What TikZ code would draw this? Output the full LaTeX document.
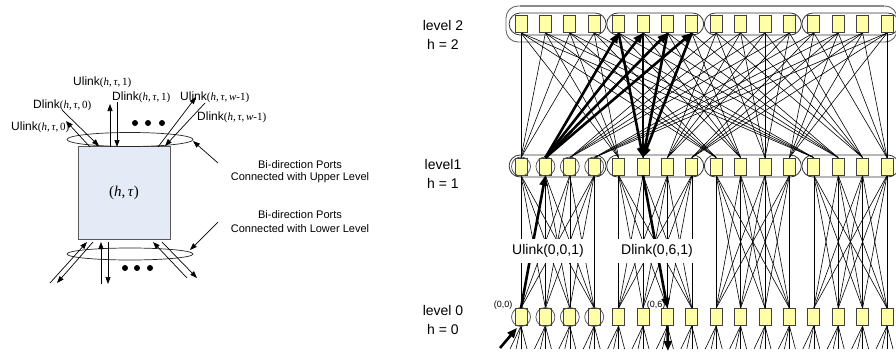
\documentclass[tikz,border=0pt]{standalone}
\usepackage{fontspec}
\setmainfont{Liberation Sans}
\newfontfamily\serifmath{Liberation Serif}
\usetikzlibrary{arrows.meta,shapes.geometric}
\pgfdeclarelayer{bg}
\pgfsetlayers{bg,main}
\definecolor{boxy}{RGB}{255,255,168}
\definecolor{cellfill}{RGB}{228,234,246}
\newcommand\pr[1]{{\serifmath\fontsize{11}{12}\selectfont(\textit{h},\,\textit{τ},\,#1)}}
\begin{document}
\begin{tikzpicture}[x=1pt,y=-1pt,
  ybox/.style={draw=black!75, fill=boxy, line width=0.8pt, minimum width=12pt, minimum height=17pt, inner sep=0pt},
  link/.style={line width=0.6pt},
  boldarr/.style={line width=2.6pt, -{Triangle[length=10pt,width=8pt]}},
  arr/.style={line width=0.7pt, -{Triangle[length=7pt,width=5pt]}},
  grp/.style={draw=black!80, line width=0.8pt, rounded corners=11pt},
  ring/.style={draw=black!70, circle, minimum size=19pt, inner sep=0pt, line width=0.7pt},
  lvl/.style={font=\fontsize{14}{16}\selectfont},
  lab/.style={fill=white, minimum width=88pt, minimum height=24pt, inner sep=0pt, font=\fontsize{14}{16}\selectfont},
  sidelab/.style={anchor=west, inner sep=0pt, font=\fontsize{12}{14}\selectfont},
  notelab/.style={font=\fontsize{11}{13}\selectfont, inner sep=0pt},
  bigdot/.style={fill=black, circle, minimum size=6pt, inner sep=0pt},
  oval/.style={draw=black!85, ellipse, minimum width=126pt, minimum height=14pt, inner sep=0pt, line width=0.7pt}
]
\useasboundingbox (0,0) rectangle (896,351);

% ---------- right: network ----------
\foreach \i in {0,...,15}{
  \node[ybox] (t\i) at ({521+24.4*\i},24) {};
  \node[ybox] (m\i) at ({521+24.4*\i},166.5) {};
  \node[ybox] (b\i) at ({521+24.4*\i},317) {};
}
\foreach \i in {0,...,3}{
  \node[ring] (mc\i) at (m\i) {};
  \node[ring] (bc\i) at (b\i) {};
}

\begin{pgfonlayer}{bg}
  \draw[grp, draw=black!60, line width=0.9pt, rounded corners=12pt] (506,6) rectangle (897,42);
  \draw[black!45, line width=1.4pt] (520,6) -- (884,6);
  \foreach \g in {0,...,3}{
    \draw[grp] ({557.6+97.6*\g-48.5},13) rectangle ({557.6+97.6*\g+48.5},35);
    \draw[grp] ({557.6+97.6*\g-48.5},155) rectangle ({557.6+97.6*\g+48.5},177);
  }
  % level 2 -- level 1
  \foreach \p in {0,...,3}{
    \foreach \j in {0,...,3}{
      \foreach \g in {0,...,3}{
        \pgfmathtruncatemacro\ta{4*\p+\j}
        \pgfmathtruncatemacro\mb{4*\g+\p}
        \draw[link] (t\ta.south) -- (m\mb.north);
      }}}
  % level 1 -- level 0
  \foreach \g in {0,...,3}{
    \foreach \p in {0,...,3}{
      \foreach \k in {0,...,3}{
        \pgfmathtruncatemacro\ma{4*\g+\p}
        \pgfmathtruncatemacro\bb{4*\g+\k}
        \draw[link] (m\ma.south) -- (b\bb.north);
      }}}
  % fans below level 0
  \foreach \i in {0,...,15}{
    \foreach \d [count=\c] in {-11,-5,0,6}{
      \coordinate (f\i-\c) at ({521+24.4*\i+\d},349);
      \draw[link] (b\i.south) -- (f\i-\c);
    }}
\end{pgfonlayer}

\node[font=\fontsize{9}{10}\selectfont, inner sep=0pt] (p00) at (503,305) {(0,0)};
\node[font=\fontsize{9}{10}\selectfont, inner sep=0pt] (p06) at (656,305) {(0,6)};

% bold path
\foreach \k in {4,...,7}{
  \draw[boldarr] (m1.north) -- (t\k.south);
  \draw[boldarr] (t\k.south) -- (m5.north);
}
\draw[boldarr] (b0.north) -- (m1.south);
\draw[boldarr] (m5.south) -- (b6.north);
\coordinate (in0) at (500,348);
\coordinate (out6) at (668,351);
\draw[boldarr] (in0) -- ([xshift=-4pt,yshift=-2pt]b0.south);
\draw[boldarr] (b6.south) -- (out6);

\node[lab] (ul) at (548,251) {Ulink(0,0,1)};
\node[lab] (dl) at (657,251) {Dlink(0,6,1)};

\node[lvl] (l2a) at (443,25) {level 2};
\node[lvl] (l2b) at (443,44) {h = 2};
\node[lvl] (l1a) at (443,164) {level1};
\node[lvl] (l1b) at (443,183) {h = 1};
\node[lvl] (l0a) at (443,310) {level 0};
\node[lvl] (l0b) at (443,329) {h = 0};

% ---------- left: single switch ----------
\node[draw=black!65, fill=cellfill, line width=0.9pt, minimum width=92pt, minimum height=93pt,
      font=\serifmath\fontsize{15}{17}\selectfont] (cell) at (124,192.5) {(\textit{h},\,\textit{τ})};
\node[oval] (upE) at (130,139.5) {};
\node[oval, minimum height=12pt] (loE) at (130,254) {};

\foreach \x [count=\c] in {135,148,162}{ \node[bigdot] (ud\c) at (\x,123) {}; }
\foreach \x [count=\c] in {125,137,150}{ \node[bigdot] (ld\c) at (\x,268) {}; }

% upper arrows
\coordinate (u0a) at (90,147);  \coordinate (u0b) at (66,121);
\coordinate (d0a) at (62,110);  \coordinate (d0b) at (99,146);
\coordinate (u1a) at (110,147); \coordinate (u1b) at (110,104);
\coordinate (d1a) at (117,102); \coordinate (d1b) at (117,147);
\coordinate (uwa) at (158,147); \coordinate (uwb) at (196,97);
\coordinate (dwa) at (205,103); \coordinate (dwb) at (165,146);
\draw[arr] (u0a) -- (u0b);
\draw[arr] (d0a) -- (d0b);
\draw[arr] (u1a) -- (u1b);
\draw[arr] (d1a) -- (d1b);
\draw[arr] (uwa) -- (uwb);
\draw[arr] (dwa) -- (dwb);

% lower arrows
\coordinate (l1a) at (50,283);  \coordinate (l1b) at (87,242);
\coordinate (l2a) at (93,242);  \coordinate (l2b) at (57,283);
\coordinate (m1a) at (101,284); \coordinate (m1b) at (101,242);
\coordinate (m2a) at (108,242); \coordinate (m2b) at (108,284);
\coordinate (r1a) at (162,242); \coordinate (r1b) at (197,278);
\coordinate (r2a) at (187,278); \coordinate (r2b) at (153,242);
\draw[arr] (l1a) -- (l1b);
\draw[arr] (l2a) -- (l2b);
\draw[arr] (m1a) -- (m1b);
\draw[arr] (m2a) -- (m2b);
\draw[arr] (r1a) -- (r1b);
\draw[arr] (r2a) -- (r2b);

% link labels
\node[sidelab] (tu1) at (73,82) {Ulink\pr{1}};
\node[sidelab] (td1) at (112,97) {Dlink\pr{1}};
\node[sidelab] (td0) at (33,105) {Dlink\pr{0}};
\node[sidelab] (tu0) at (11,127) {Ulink\pr{0}};
\node[sidelab] (tuw) at (180,97) {Ulink\pr{\textit{w}-1}};
\node[sidelab] (tdw) at (197,117) {Dlink\pr{\textit{w}-1}};

% port notes
\node[notelab] (n1) at (300,165) {Bi-direction Ports};
\node[notelab] (n2) at (300,178) {Connected with Upper Level};
\node[notelab] (n3) at (300,215) {Bi-direction Ports};
\node[notelab] (n4) at (300,229) {Connected with Lower Level};
\coordinate (pu) at (218,163);
\coordinate (pl) at (218,222);
\coordinate (pue) at (193,141);
\coordinate (ple) at (190,250);
\draw[arr] (pu) -- (pue);
\draw[arr] (pl) -- (ple);
\end{tikzpicture}
\end{document}
